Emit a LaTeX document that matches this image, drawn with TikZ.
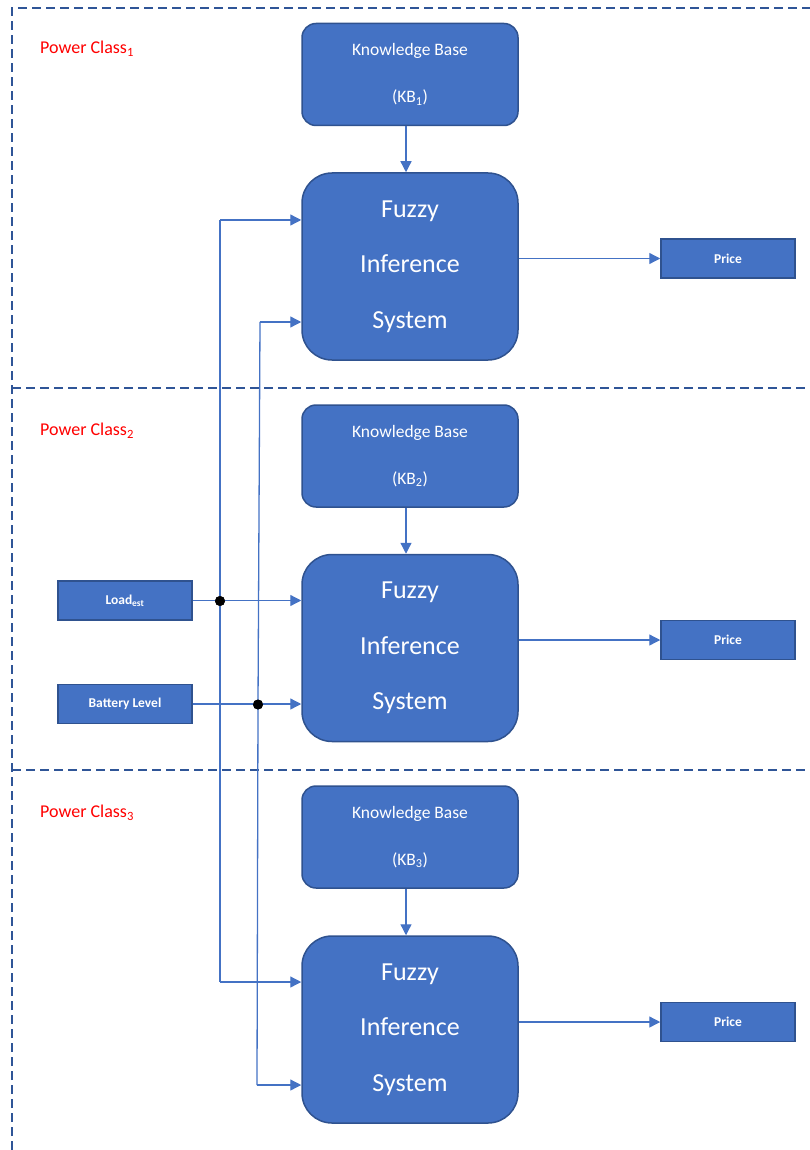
\documentclass[tikz,border=0pt]{standalone}
\usepackage{fontspec}
\setmainfont{Carlito}
\usetikzlibrary{arrows.meta}
\definecolor{boxfill}{HTML}{4472C4}
\definecolor{boxline}{HTML}{2F528F}
\definecolor{frameblue}{HTML}{2F5597}
\definecolor{wire}{HTML}{4472C4}
\definecolor{classred}{HTML}{FF0000}
\tikzset{
  kbbox/.style={draw=boxline, line width=1.5pt, fill=boxfill, rounded corners=14pt,
    minimum width=216pt, minimum height=102pt, text=white, align=center,
    font=\fontsize{17.5}{47}\selectfont, inner sep=0pt},
  fisbox/.style={draw=boxline, line width=1.5pt, fill=boxfill, rounded corners=30pt,
    minimum width=216pt, minimum height=187pt, text=white, align=center,
    font=\fontsize{26}{55.5}\selectfont, inner sep=0pt},
  iobox/.style={draw=boxline, line width=1.5pt, fill=boxfill,
    minimum width=134pt, minimum height=39pt, text=white, align=center,
    font=\bfseries\fontsize{13.5}{15}\selectfont, inner sep=0pt},
  frame/.style={draw=frameblue, line width=2pt, dash pattern=on 9pt off 5pt},
  classlabel/.style={text=classred, anchor=west, font=\fontsize{18}{20}\selectfont, inner sep=0pt},
  wireline/.style={draw=wire, line width=1.3pt},
  wirearrow/.style={wireline, -{Triangle[length=11pt,width=11pt]}},
  junction/.style={circle, fill=black, minimum size=10pt, inner sep=0pt}
}
\begin{document}
\begin{tikzpicture}[x=1pt,y=-1pt]
\useasboundingbox (0,0) rectangle (810,1150);
% frames
\draw[frame] (12,1150) -- (12,8) -- (810,8);
\draw[frame] (12,388) -- (810,388);
\draw[frame] (12,770) -- (810,770);
% class labels
\node[classlabel] (pc1) at (40,49) {Power Class\textsubscript{1}};
\node[classlabel] (pc2) at (40,431) {Power Class\textsubscript{2}};
\node[classlabel] (pc3) at (40,813) {Power Class\textsubscript{3}};
% KB boxes
\node[kbbox] (kb1) at (410,74.5) {Knowledge Base\\(KB\textsubscript{1})};
\node[kbbox] (kb2) at (410,456) {Knowledge Base\\(KB\textsubscript{2})};
\node[kbbox] (kb3) at (410,837) {Knowledge Base\\(KB\textsubscript{3})};
% FIS boxes
\node[fisbox] (f1) at (410,266.5) {Fuzzy\\Inference\\System};
\node[fisbox] (f2) at (410,648) {Fuzzy\\Inference\\System};
\node[fisbox] (f3) at (410,1029.5) {Fuzzy\\Inference\\System};
% price boxes
\node[iobox] (p1) at (728,258.5) {Price};
\node[iobox] (p2) at (728,640) {Price};
\node[iobox] (p3) at (728,1022) {Price};
% inputs
\node[iobox] (load) at (125,600.5) {Load\textsubscript{est}};
\node[iobox] (bat) at (125,704) {Battery Level};
% junctions
\node[junction] (j1) at (220,601) {};
\node[junction] (j2) at (258,704.5) {};
% KB -> FIS
\draw[wirearrow] (kb1.south -| 406,0) -- (f1.north -| 406,0);
\draw[wirearrow] (kb2.south -| 406,0) -- (f2.north -| 406,0);
\draw[wirearrow] (kb3.south -| 406,0) -- (f3.north -| 406,0);
% FIS -> Price
\draw[wirearrow] (f1.east |- p1) -- (p1.west);
\draw[wirearrow] (f2.east |- p2) -- (p2.west);
\draw[wirearrow] (f3.east |- p3) -- (p3.west);
% load lines
\draw[wirearrow] (load.east) -- (f2.west |- load);
\draw[wireline] (j1.center) -- (220,220);
\draw[wirearrow] (220,220) -- (f1.west |- 0,220);
\draw[wireline] (j1.center) -- (220,982);
\draw[wirearrow] (220,982) -- (f3.west |- 0,982);
% battery lines
\draw[wirearrow] (bat.east) -- (f2.west |- bat);
\draw[wireline] (j2.center) -- (260,322);
\draw[wirearrow] (260,322) -- (f1.west |- 0,322);
\draw[wireline] (j2.center) -- (257,1085);
\draw[wirearrow] (257,1085) -- (f3.west |- 0,1085);
% redraw junctions on top
\fill[black] (j1) circle (5pt);
\fill[black] (j2) circle (5pt);
\end{tikzpicture}
\end{document}
